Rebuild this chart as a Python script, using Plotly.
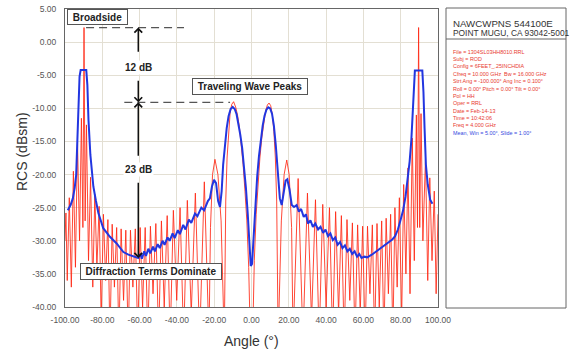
import plotly.graph_objects as go

# ---------------- data ----------------
red_angle = [
    -100.0, -99.5, -98.8, -97.7, -96.6, -95.5, -94.4, -93.3, -92.2, -91.2,
    -90.4, -89.8, -89.2, -88.5, -87.4, -86.3, -85.1, -84.0, -82.9, -81.7,
    -80.6, -79.4, -78.2, -77.0, -75.9, -74.7, -73.5, -72.3, -71.1, -69.9,
    -68.6, -67.4, -66.1, -64.9, -63.6, -62.3, -61.0, -59.7, -58.4, -57.0,
    -55.6, -54.2, -52.8, -51.3, -49.8, -48.3, -46.8, -45.2, -43.6, -41.9,
    -40.1, -38.3, -36.4, -34.4, -32.3, -30.1, -27.8, -25.3, -22.8, -22.0,
    -20.9, -19.6, -18.0, -16.3, -14.6, -13.8, -13.1, -12.3, -11.5, -10.6,
    -9.6, -8.5, -7.5, -6.5, -5.5, -4.5, -3.5, -2.5, -1.5, -0.6,
    0.6, 1.5, 2.5, 3.5, 4.5, 5.5, 6.5, 7.5, 8.5, 9.4,
    10.3, 11.2, 12.0, 12.8, 13.5, 14.3, 16.0, 17.5, 18.9, 20.2,
    21.5, 22.3, 25.0, 27.6, 30.0, 32.2, 34.3, 36.3, 38.2, 40.0,
    41.8, 43.5, 45.1, 46.7, 48.2, 49.7, 51.2, 52.7, 54.1, 55.5,
    56.9, 58.3, 59.6, 60.9, 62.2, 63.5, 64.8, 66.0, 67.3, 68.5,
    69.8, 71.0, 72.2, 73.4, 74.6, 75.8, 76.9, 78.1, 79.3, 80.5,
    81.6, 82.8, 83.9, 85.0, 86.2, 87.3, 88.4, 89.0, 89.6, 90.2,
    90.9, 91.9, 93.3, 94.5, 95.6, 96.8, 98.0, 99.0, 100.0,
]
red_rcs = [
    -30.0, -25.8, -36.0, -23.5, -37.0, -19.5, -34.0, -15.0, -30.0, -11.5,
    -28.0, 2.2, -27.0, -12.5, -33.0, -20.4, -37.0, -23.0, -34.0, -24.8,
    -42.0, -26.0, -36.0, -26.8, -45.0, -27.5, -37.0, -28.0, -45.0, -28.2,
    -39.0, -28.4, -45.0, -28.4, -37.0, -28.2, -45.0, -28.0, -40.0, -28.0,
    -45.0, -27.8, -38.0, -27.4, -45.0, -27.0, -40.0, -26.2, -45.0, -25.4,
    -39.0, -25.0, -45.0, -23.9, -41.0, -22.8, -45.0, -21.1, -45.0, -28.0,
    -20.0, -17.7, -20.0, -27.0, -45.0, -24.0, -17.5, -13.2, -10.8, -9.4,
    -9.0, -9.8, -11.0, -12.8, -15.3, -18.5, -22.5, -27.0, -34.0, -45.0,
    -45.0, -33.0, -26.0, -21.5, -17.5, -14.5, -12.2, -10.5, -9.5, -9.2,
    -9.6, -11.0, -13.5, -17.5, -24.0, -45.0, -27.0, -20.0, -17.8, -20.0,
    -28.0, -45.0, -20.6, -45.0, -22.8, -42.0, -23.8, -45.0, -24.5, -40.0,
    -25.0, -45.0, -25.6, -41.0, -26.2, -45.0, -26.8, -39.0, -27.3, -45.0,
    -27.6, -41.0, -27.8, -45.0, -27.8, -38.0, -27.6, -45.0, -27.4, -40.0,
    -27.0, -45.0, -26.6, -38.0, -26.0, -45.0, -25.0, -37.0, -23.5, -42.0,
    -21.5, -35.0, -19.0, -38.0, -14.5, -33.0, -11.0, -28.0, 2.2, -28.0,
    -10.8, -30.0, -17.5, -36.0, -20.5, -33.0, -22.5, -38.0, -26.0,
]

mean_angle = [
    -98.5, -97.0, -95.8, -94.8, -94.0, -93.4, -92.8, -92.2, -91.6, -88.6,
    -88.0, -87.4, -86.4, -84.8, -83.4, -82.1, -79.5, -77.5, -75.9, -72.3,
    -70.5, -68.7, -66.0, -63.4, -60.7, -59.5, -58.8, -57.5, -56.6, -55.3,
    -54.3, -52.8, -51.8, -50.3, -49.2, -47.7, -46.6, -45.0, -43.9, -42.3,
    -41.2, -39.5, -38.4, -36.6, -35.4, -33.6, -32.3, -30.3, -29.0, -26.9,
    -25.4, -23.4, -22.3, -21.2, -20.1, -19.0, -17.9, -16.9, -16.0, -15.2,
    -14.2, -13.3, -12.3, -11.2, -10.1, -9.0, -8.0, -7.0, -6.0, -5.0,
    -4.0, -3.0, -2.0, -1.2, -0.4, 0.3, 1.0, 1.9, 3.0, 4.0,
    5.0, 6.0, 7.0, 8.0, 9.0, 10.0, 11.0, 12.0, 13.0, 14.0,
    15.2, 16.2, 17.3, 18.3, 19.2, 20.4, 21.6, 22.8, 24.2, 25.4,
    26.6, 28.0, 29.2, 30.3, 31.6, 32.9, 34.2, 35.7, 37.0, 38.4,
    39.7, 41.0, 42.3, 43.6, 44.9, 46.2, 47.5, 48.8, 50.1, 51.4,
    52.7, 54.0, 55.3, 56.6, 57.8, 59.0, 60.5, 62.0, 64.5, 67.8,
    70.5, 73.5, 75.5, 77.0, 78.5, 80.0, 81.3, 82.6, 83.8, 84.8,
    85.7, 86.4, 87.0, 87.6, 91.6, 92.2, 92.8, 93.5, 94.5, 95.8,
    97.0,
]
mean_rcs = [
    -25.4, -24.6, -23.6, -22.0, -20.0, -15.0, -9.0, -5.2, -4.2, -4.2,
    -6.5, -11.8, -17.0, -21.8, -24.0, -25.8, -28.1, -28.9, -29.4, -30.4,
    -31.0, -31.7, -32.1, -32.3, -32.6, -32.0, -32.7, -31.6, -32.3, -31.2,
    -31.9, -30.9, -31.6, -30.5, -31.1, -30.0, -30.6, -29.5, -30.0, -28.9,
    -29.6, -28.4, -29.0, -27.6, -28.3, -26.8, -27.3, -25.9, -26.3, -25.0,
    -25.4, -24.0, -23.6, -21.8, -20.8, -21.3, -24.0, -24.9, -22.5, -18.5,
    -15.2, -13.0, -11.2, -10.1, -9.8, -10.1, -10.9, -12.3, -14.0, -16.0,
    -18.8, -22.0, -26.0, -30.0, -33.8, -33.5, -30.0, -25.4, -20.5, -17.2,
    -14.6, -12.6, -11.1, -10.2, -9.85, -10.0, -10.8, -12.6, -15.5, -19.5,
    -23.6, -24.6, -22.3, -20.9, -20.7, -22.3, -24.6, -24.9, -24.6, -25.6,
    -25.2, -26.4, -26.0, -27.4, -26.9, -27.9, -27.4, -28.3, -27.9, -28.8,
    -28.3, -29.3, -28.9, -29.9, -29.5, -30.6, -30.2, -31.1, -30.7, -31.6,
    -31.2, -32.0, -31.6, -32.4, -32.0, -32.6, -32.4, -32.5, -32.1, -31.4,
    -30.8, -30.2, -29.8, -29.3, -28.3, -26.8, -25.4, -23.3, -20.5, -18.0,
    -14.8, -11.5, -7.5, -4.3, -4.3, -7.5, -13.0, -18.5, -21.5, -23.8,
    -24.4,
]

x_ticks = [-100, -80, -60, -40, -20, 0, 20, 40, 60, 80, 100]
y_ticks = [-40, -35, -30, -25, -20, -15, -10, -5, 0, 5]

info_header = ["NAWCWPNS 544100E", "POINT MUGU, CA 93042-5001"]
info_lines = [
    "File = 1304SL03HH8010.RRL",
    "Subj = ROD",
    "Config = 6FEET_.25INCHDIA",
    "Cfreq = 10.000 GHz  Bw = 16.000 GHz",
    "Strt Ang = -100.000° Ang Inc = 0.100°",
    "Roll = 0.00° Pitch = 0.00° Tilt = 0.00°",
    "Pol = HH",
    "Oper = RRL",
    "Date = Feb-14-13",
    "Time = 10:42:06",
    "Freq = 4.000 GHz",
]
info_mean = "Mean, Win = 5.00°, Slide = 1.00°"

# ---------------- layout helpers ----------------
W, H = 571, 352
L, R, T, B = 65, 133, 9, 45
PW, PH = W - L - R, H - T - B


def px(x):
    return (x - L) / PW


def py(y):
    return (H - B - y) / PH


FONT = "Liberation Sans, Arial, sans-serif"

fig = go.Figure()
fig.add_trace(go.Scatter(
    x=red_angle, y=red_rcs, mode="lines",
    line=dict(color="rgba(255,40,20,0.85)", width=1),
    hoverinfo="skip",
))
fig.add_trace(go.Scatter(
    x=mean_angle, y=mean_rcs, mode="lines",
    line=dict(color="#2236e0", width=2),
    hoverinfo="skip",
))

fig.update_layout(
    width=W, height=H,
    margin=dict(l=L, r=R, t=T, b=B, autoexpand=False),
    showlegend=False,
    plot_bgcolor="white", paper_bgcolor="white",
    font=dict(family=FONT, color="#333"),
    xaxis=dict(
        range=[-100, 100], tickvals=x_ticks,
        ticktext=["%.2f" % v for v in x_ticks],
        showgrid=True, gridcolor="#e3dfd3", gridwidth=1,
        zeroline=False, showline=True, mirror=True,
        linecolor="#666", linewidth=1, automargin=False,
        tickfont=dict(size=8.5, color="#555"),
        ticklabelstandoff=5,
    ),
    yaxis=dict(
        range=[-40, 5], tickvals=y_ticks,
        ticktext=["%.2f" % v for v in y_ticks],
        showgrid=True, gridcolor="#e3dfd3", gridwidth=1,
        zeroline=False, showline=True, mirror=True,
        linecolor="#666", linewidth=1, automargin=False,
        tickfont=dict(size=8.5, color="#555"),
        ticklabelstandoff=6,
    ),
)

ann = []


def label(x, y, text, size, color="#333", anchor="center", **kw):
    d = dict(xref="paper", yref="paper", x=px(x), y=py(y), text=text,
             showarrow=False, xanchor=anchor, yanchor="middle",
             font=dict(size=size, color=color))
    d.update(kw)
    ann.append(d)


# axis titles
label(251, 341, "Angle (°)", 14)
label(22, 152, "RCS (dBsm)", 14, textangle=-90)

# boxed labels
for txt, cx, cy, bw, bh in [
    ("Broadside", 97.5, 16.5, 61, 16),
    ("Traveling Wave Peaks", 250, 86.5, 116, 17),
    ("Diffraction Terms Dominate", 151, 271.5, 142, 17),
]:
    label(cx, cy, "<b>%s</b>" % txt, 10, "#222",
          bgcolor="white", bordercolor="#555", borderwidth=1,
          borderpad=1, width=bw - 4, height=bh - 4)

# dB difference labels
for txt, yv in [("12 dB", -3.9), ("23 dB", -19.3)]:
    ann.append(dict(xref="x", yref="y", x=-60.7, y=yv,
                    text="<b>%s</b>" % txt, showarrow=False,
                    xanchor="center", yanchor="middle",
                    font=dict(size=10, color="#222"), bgcolor="white"))

# arrows
for head, tail in [(2.2, -1.7), (-9.1, -5.6), (-9.1, -17.4), (-32.6, -21.0)]:
    ann.append(dict(xref="x", yref="y", x=-60.7, y=head,
                    axref="x", ayref="y", ax=-60.7, ay=tail,
                    text="", showarrow=True, arrowhead=4, arrowsize=1,
                    arrowwidth=1.5, arrowcolor="#111", standoff=0))

# info panel text
label(451, 23, info_header[0], 9.7, anchor="left")
label(451, 33, info_header[1], 8.4, anchor="left")
for i, line in enumerate(info_lines):
    label(451, 51.7 + 7.36 * i, line, 5.4, "#e83a30", anchor="left")
label(451, 51.7 + 7.36 * len(info_lines), info_mean, 5.4, "#3548e0",
      anchor="left")

fig.update_layout(annotations=ann)

shapes = [
    # dashed reference levels
    dict(type="line", xref="x", yref="y", x0=-88.7, x1=-36.2, y0=2.2, y1=2.2,
         line=dict(color="#555", width=1.2, dash="8px,5px")),
    dict(type="line", xref="x", yref="y", x0=-68.2, x1=-11.5, y0=-9.1, y1=-9.1,
         line=dict(color="#555", width=1.2, dash="8px,5px")),
    # info panel
    dict(type="rect", xref="paper", yref="paper",
         x0=px(446), x1=px(566), y0=py(308), y1=py(8),
         line=dict(color="#666", width=1), fillcolor="rgba(0,0,0,0)"),
    dict(type="line", xref="paper", yref="paper",
         x0=px(446), x1=px(566), y0=py(39), y1=py(39),
         line=dict(color="#666", width=1)),
]
fig.update_layout(shapes=shapes)

fig.write_html(
    "out.html",
    config={"displayModeBar": False},
    post_script="document.body.style.margin='0px';document.body.style.overflow='hidden';",
)
